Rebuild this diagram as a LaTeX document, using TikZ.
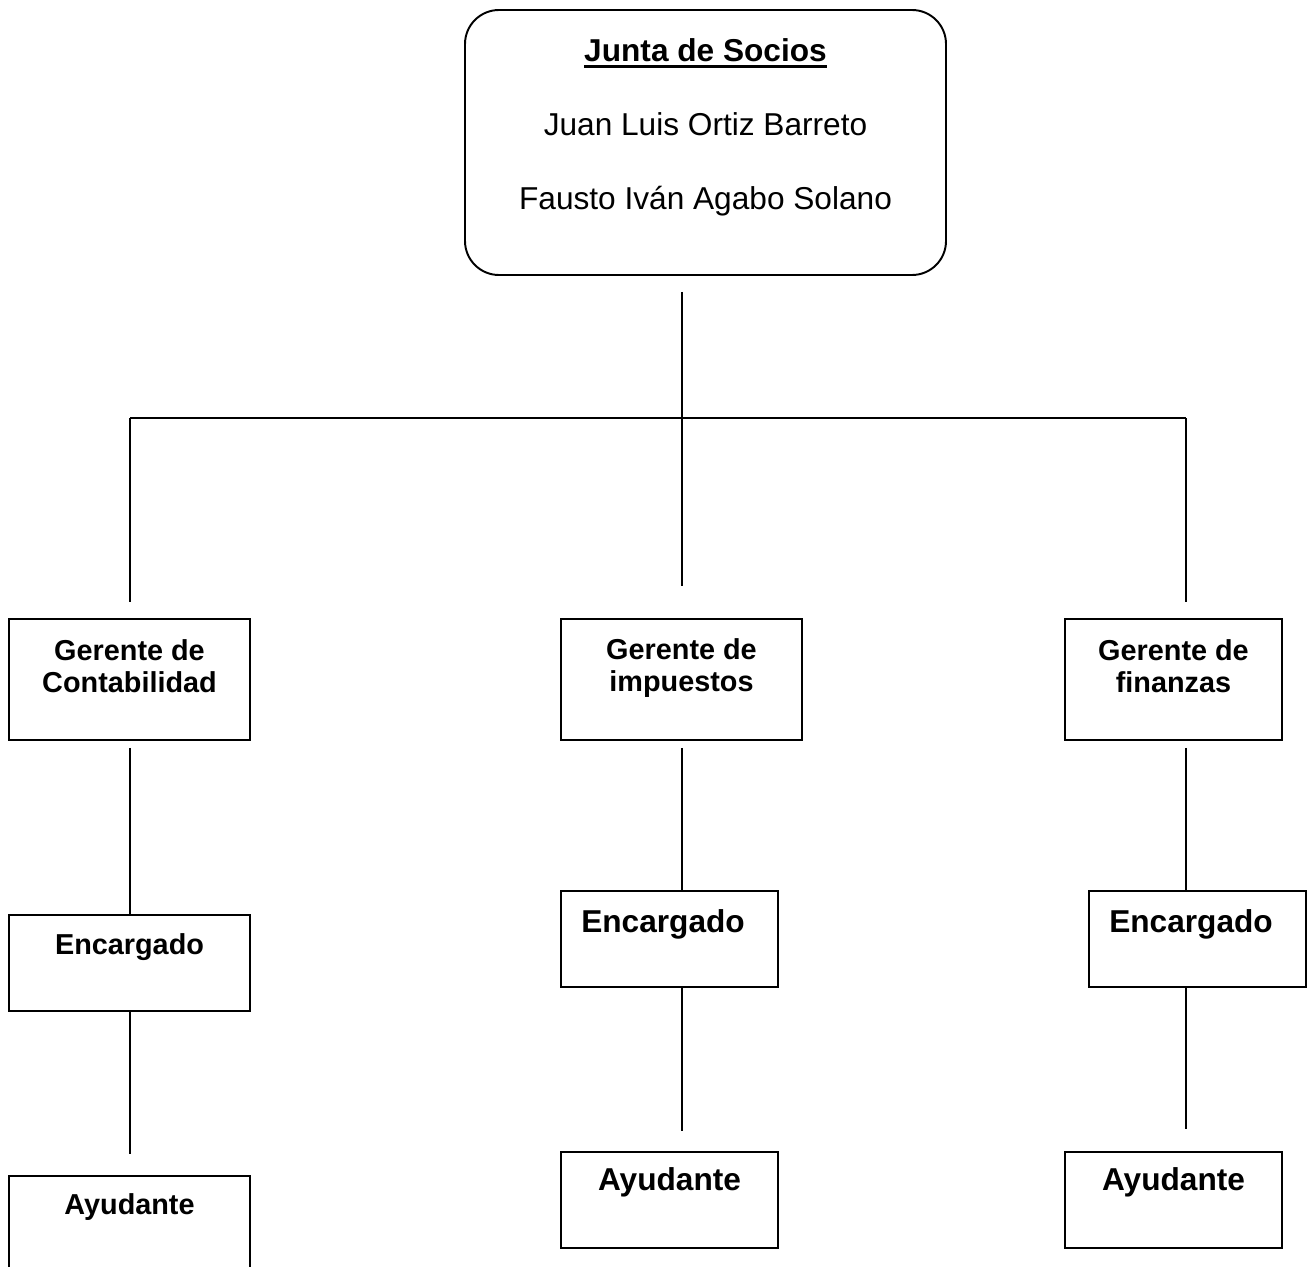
\documentclass[tikz,border=0pt]{standalone}
\usepackage{fontspec}
\setmainfont{Liberation Sans}
\usetikzlibrary{positioning}
\newcommand{\subrayar}[1]{\setbox0\hbox{#1}\rlap{\rule[-3.4pt]{\wd0}{1.4pt}}\box0}
\tikzset{
  nd_box/.style={rectangle,draw=black,line width=1.1pt,inner sep=0pt},
  nd_junta/.style={nd_box,rounded corners=0.68cm,minimum width=9.62cm,minimum height=5.3cm},
  nd_ger/.style={nd_box,minimum height=2.42cm},
  nd_sub/.style={nd_box,minimum height=1.92cm},
  txt_sm/.style={align=center,inner sep=0pt,font=\bfseries\fontsize{16.4}{18.2}\selectfont},
  txt_lg/.style={align=center,inner sep=0pt,font=\bfseries\fontsize{18}{21}\selectfont},
  lnk/.style={line width=0.85pt},
}
\begin{document}
\begin{tikzpicture}[x=1cm,y=1cm]
\useasboundingbox (0,0) rectangle (26.22,-25.32);
\clip (0,0) rectangle (26.22,-25.32);
\def\cA{2.60}\def\cB{13.64}\def\cC{23.72}
% Junta
\node[nd_junta] at (14.11,-2.85) (T){};
\node[align=center,inner sep=0pt,font=\fontsize{18}{42.1}\selectfont] at ([yshift=-2.37cm]T.north) (Tt)
  {\subrayar{\textbf{Junta de Socios}}\\Juan Luis Ortiz Barreto\\Fausto Iván Agabo Solano};
% col izquierda
\node[nd_ger,minimum width=4.82cm] at (2.59,-13.59) (G1){};
\node[txt_sm] at ([yshift=-0.96cm]G1.north) (G1t){Gerente de\\Contabilidad};
\node[nd_sub,minimum width=4.82cm] at (2.59,-19.26) (E1){};
\node[txt_sm] at ([yshift=-0.66cm]E1.north) (E1t){Encargado};
\node[nd_sub,minimum width=4.82cm] at (2.59,-24.48) (A1){};
\node[txt_sm] at ([yshift=-0.64cm]A1.north) (A1t){Ayudante};
% col centro
\node[nd_ger,minimum width=4.82cm] at (13.63,-13.59) (G2){};
\node[txt_sm] at ([yshift=-1.0cm]G2.north) (G2t){Gerente de\\impuestos};
\node[nd_sub,minimum width=4.34cm] at (13.39,-18.78) (E2){};
\node[txt_lg] at ([xshift=-0.13cm,yshift=-0.68cm]E2.north) (E2t){Encargado};
\node[nd_sub,minimum width=4.34cm] at (13.39,-24.0) (A2){};
\node[txt_lg] at ([yshift=-0.62cm]A2.north) (A2t){Ayudante};
% col derecha
\node[nd_ger,minimum width=4.34cm] at (23.47,-13.59) (G3){};
\node[txt_sm] at ([yshift=-0.96cm]G3.north) (G3t){Gerente de\\finanzas};
\node[nd_sub,minimum width=4.34cm] at (23.95,-18.78) (E3){};
\node[txt_lg] at ([xshift=-0.13cm,yshift=-0.68cm]E3.north) (E3t){Encargado};
\node[nd_sub,minimum width=4.34cm] at (23.47,-24.0) (A3){};
\node[txt_lg] at ([yshift=-0.62cm]A3.north) (A3t){Ayudante};
% barra
\coordinate (busL) at (\cA,-8.36);
\coordinate (busR) at (\cC,-8.36);
\coordinate (cola) at (\cB,-8.70);
\draw[lnk,shorten <=0.32cm] (T.south -| cola) -- (cola);
\draw[lnk] (busL) -- (busR);
\draw[lnk,shorten >=0.32cm] (busL) -- (G1.north -| busL);
\draw[lnk,shorten >=0.64cm] (busL -| cola) -- (G2.north -| cola);
\draw[lnk,shorten >=0.32cm] (busR) -- (G3.north -| busR);
% lineas
\draw[lnk,shorten <=0.14cm] (G1.south -| busL) -- (E1.north -| busL);
\draw[lnk,shorten >=0.42cm] (E1.south -| busL) -- (A1.north -| busL);
\draw[lnk,shorten <=0.14cm] (G2.south -| cola) -- (E2.north -| cola);
\draw[lnk,shorten >=0.40cm] (E2.south -| cola) -- (A2.north -| cola);
\draw[lnk,shorten <=0.14cm] (G3.south -| busR) -- (E3.north -| busR);
\draw[lnk,shorten >=0.44cm] (E3.south -| busR) -- (A3.north -| busR);
\end{tikzpicture}
\end{document}
